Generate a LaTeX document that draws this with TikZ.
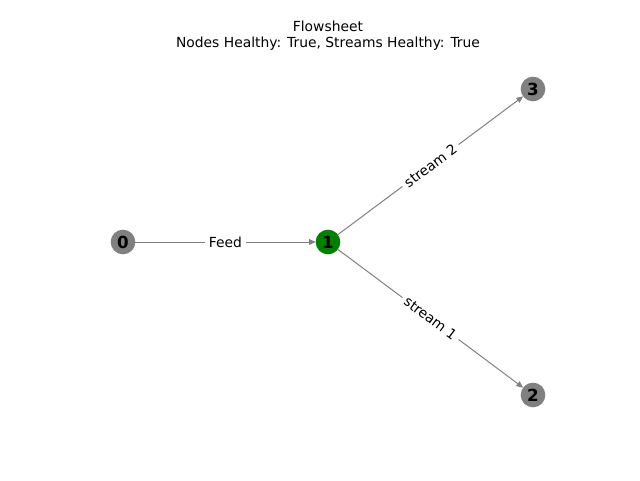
\documentclass[tikz,border=0pt]{standalone}
\usepackage{fontspec}
\setmainfont{DejaVu Sans}
\usetikzlibrary{arrows.meta}
\definecolor{mplgreen}{RGB}{0,128,0}
\definecolor{mplgray}{RGB}{128,128,128}
\begin{document}
\begin{tikzpicture}[x=0.75pt,y=-0.75pt,
  unit/.style={circle,minimum size=18.5pt,inner sep=0pt,outer sep=0pt,fill=#1,font=\fontsize{12.5}{14}\selectfont\bfseries,text=black},
  stream/.style={draw=mplgray,line width=0.75pt,-{Triangle[length=5pt,width=4.4pt]}},
  elabel/.style={fill=white,inner sep=3pt,font=\fontsize{10.4}{12}\selectfont,text=black,sloped}]
\useasboundingbox (0,0) rectangle (640,480);
\node[font=\fontsize{10.4}{12.2}\selectfont,align=center] (title) at (328,36) {Flowsheet\\Nodes Healthy: True, Streams Healthy: True};
\node[unit=mplgray] (n0) at (123,242) {0};
\node[unit=mplgreen] (n1) at (328,242) {1};
\node[unit=mplgray] (n3) at (533,89) {3};
\node[unit=mplgray] (n2) at (533,395) {2};
\draw[stream] (n0) -- node[elabel] {Feed} (n1);
\draw[stream] (n1) -- node[elabel] {stream 2} (n3);
\draw[stream] (n1) -- node[elabel] {stream 1} (n2);
\end{tikzpicture}
\end{document}
